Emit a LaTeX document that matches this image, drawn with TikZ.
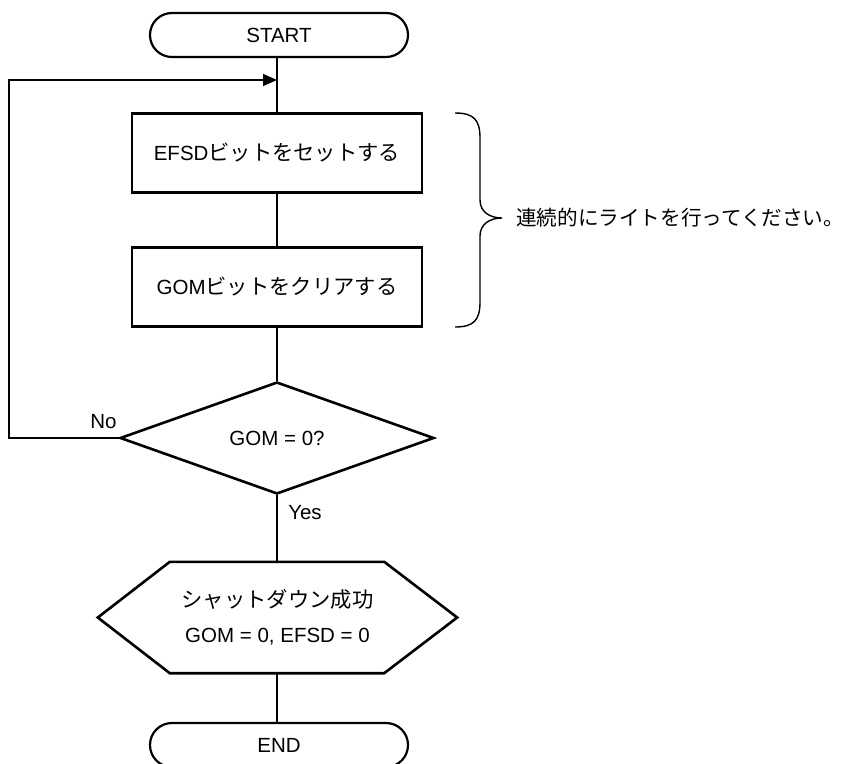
\documentclass[tikz,border=0pt]{standalone}
\usepackage{fontspec}
\setmainfont{Liberation Sans}
\newfontfamily\jpf{Noto Sans CJK JP}
\newcommand{\jp}{\jpf\fontsize{21.3}{35}\selectfont}
\newcommand{\jpnote}{\jpf\fontsize{20.6}{26}\selectfont}
\usetikzlibrary{arrows.meta,shapes.geometric}
\begin{document}
\begin{tikzpicture}[x=1pt,y=-1pt,
  every node/.style={font=\fontsize{20.5}{35}\selectfont, inner sep=0pt},
  term/.style={draw, line width=2.2pt, rounded corners=21.9pt, minimum width=258pt, minimum height=44pt},
  proc/.style={draw, line width=2.6pt, minimum width=290pt, minimum height=79pt},
  decision/.style={draw, diamond, line width=2.6pt, minimum width=314pt, minimum height=112pt},
  hexbox/.style={minimum width=359pt, minimum height=111pt, align=center},
  hexline/.style={line width=2.6pt, line join=miter},
  conn/.style={line width=1.3pt},
  bracestyle/.style={line width=1.4pt},
  ]
\useasboundingbox (0,0) rectangle (848,763);

\node[term] (start) at (279,35) {START};
\node[proc] (b1) at (277,153) {EFSD{\jp ビットをセットする}};
\node[proc] (b2) at (277,287) {GOM{\jp ビットをクリアする}};
\node[decision] (dec) at (277,438) {GOM = 0?};
\node[hexbox] (hex) at (277.5,617.5) {{\jp シャットダウン成功}\\GOM = 0, EFSD = 0};
\draw[hexline] (hex.west) -- ([xshift=72pt]hex.north west) -- ([xshift=-73pt]hex.north east)
  -- (hex.east) -- ([xshift=-73pt]hex.south east) -- ([xshift=72pt]hex.south west) -- cycle;
\node[term] (endn) at (279,745) {END};

% connectors
\draw[conn] (b1.north |- start.south) -- (b1.north);
\draw[conn] (b1) -- (b2);
\draw[conn] (b2) -- (dec);
\draw[conn] (dec.south) -- (dec.south |- hex.north);
\draw[conn] (dec.south |- hex.south) -- (dec.south |- endn.north);

\coordinate (lb) at (9,438);
\coordinate (lt) at (9,80);
\coordinate (j) at (277,80);
\draw[conn, -{Triangle[length=14pt,width=12pt]}] (dec.west) -- (lb) -- (lt) -- (j);

\node (no) at (103.5,422) {No};
\node (yes) at (305,513) {Yes};

% brace
\draw[bracestyle] (455,113) .. controls (474,113) and (480,120) .. (480,138) -- (480,200)
  .. controls (480,212) and (490,218) .. (502,218)
  .. controls (490,218) and (480,224) .. (480,236) -- (480,302)
  .. controls (480,320) and (474,327) .. (455,327);
\node[anchor=west, font=\jpnote] (note) at (516,218) {連続的にライトを行ってください。};
\end{tikzpicture}
\end{document}
